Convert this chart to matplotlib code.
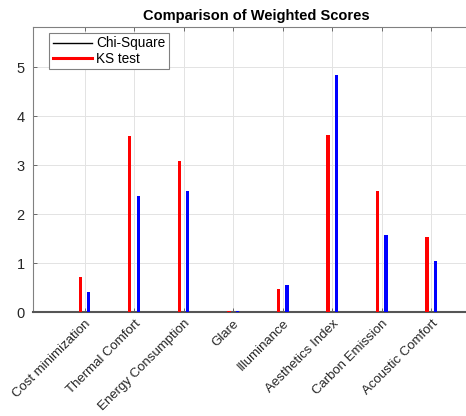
import matplotlib
matplotlib.use('Agg')
import matplotlib.pyplot as plt
import numpy as np
from matplotlib.lines import Line2D

categories = ['Cost minimization', 'Thermal Comfort', 'Energy Consumption', 'Glare',
              'Illuminance', 'Aesthetics Index', 'Carbon Emission', 'Acoustic Comfort']
ks_scores = [0.72, 3.60, 3.08, 0.02, 0.46, 3.61, 2.47, 1.53]
chi_scores = [0.41, 2.36, 2.48, 0.02, 0.55, 4.84, 1.57, 1.04]
y_ticks = [0, 1, 2, 3, 4, 5]

plt.rcParams['font.family'] = ['Liberation Sans', 'DejaVu Sans']

fig = plt.figure(figsize=(4.66, 4.16), dpi=100)
ax = fig.add_axes([0.0708, 0.25, 0.96, 0.685])

x = np.arange(len(categories))
ax.bar(x - 0.085, ks_scores, width=0.065, color='red', zorder=3)
ax.bar(x + 0.085, chi_scores, width=0.065, color='blue', zorder=3)

ax.set_xlim(-1.04, 7.99)
ax.set_ylim(0, 5.82)
ax.set_xticks(x)
ax.set_xticklabels(categories, rotation=45, ha='right', va='top', rotation_mode='anchor',
                   fontsize=9.5, color='#262626')
ax.set_yticks(y_ticks)
ax.set_yticklabels([str(t) for t in y_ticks], fontsize=10.5, color='#262626')
ax.tick_params(direction='in', length=3, color='#555555', top=True, right=False, width=0.6)
ax.tick_params(axis='x', pad=4)
ax.tick_params(axis='y', pad=6)
ax.grid(True, color='#e3e3e3', linewidth=0.7, zorder=0)
ax.set_axisbelow(True)
for side in ['top', 'left']:
    ax.spines[side].set_color('#808080')
    ax.spines[side].set_linewidth(0.8)
ax.spines['bottom'].set_color('#555555')
ax.spines['bottom'].set_linewidth(1.5)
ax.spines['right'].set_visible(False)

ax.set_title('Comparison of Weighted Scores', fontsize=10.5, fontweight='bold', pad=5)

handles = [Line2D([0], [0], color='black', linewidth=1),
           Line2D([0], [0], color='red', linewidth=2.2)]
leg = ax.legend(handles, ['Chi-Square', 'KS test'], loc='upper left',
                bbox_to_anchor=(0.036, 0.979), fontsize=9.8, fancybox=False,
                edgecolor='#808080', framealpha=1, borderpad=0.25, labelspacing=0.12,
                handlelength=2.9, handletextpad=0.3, borderaxespad=0)
leg.get_frame().set_linewidth(0.8)

fig.savefig('out.png', dpi=100)
